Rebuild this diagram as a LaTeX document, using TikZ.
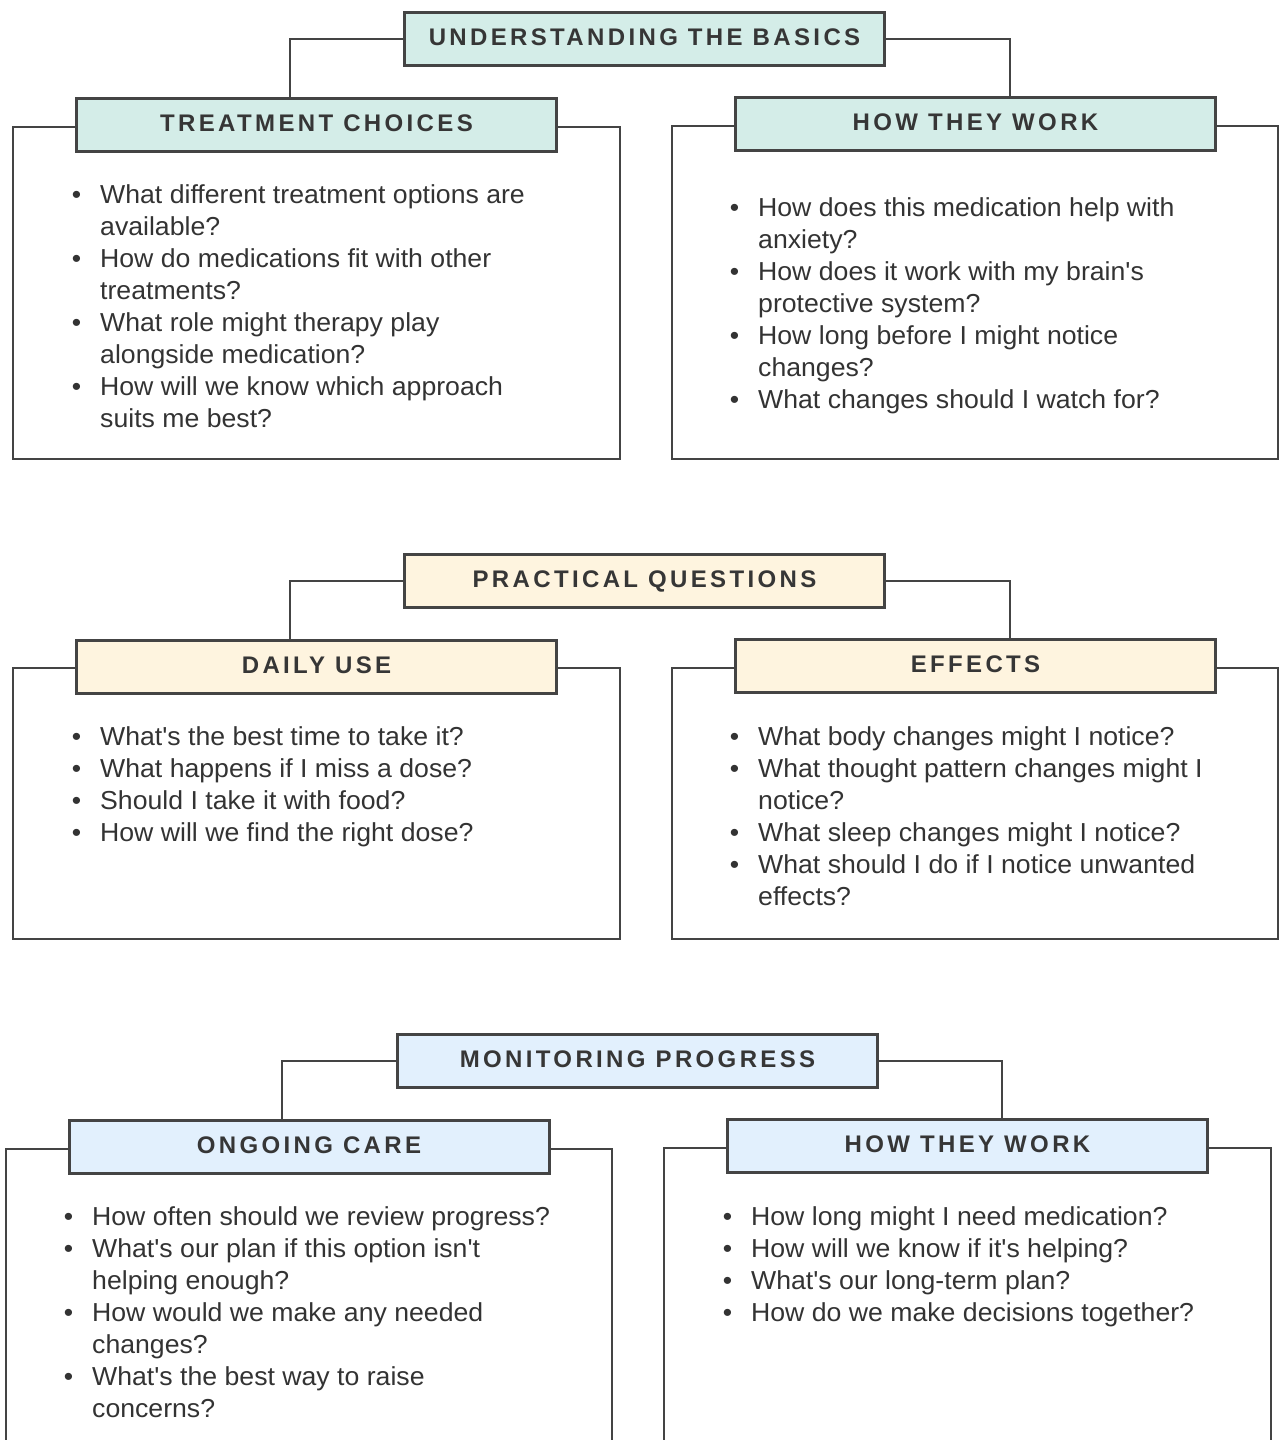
\documentclass[tikz,border=0pt]{standalone}
\usepackage{fontspec}
\newfontfamily\bodyfont{Liberation Sans}[FakeStretch=1.025]
\newfontfamily\hdrfont{Liberation Sans}[LetterSpace=14]
\definecolor{linec}{HTML}{444444}
\definecolor{tealf}{HTML}{D4EDE8}
\definecolor{yellf}{HTML}{FEF4DF}
\definecolor{bluef}{HTML}{E2F0FD}
\definecolor{txtc}{HTML}{333333}
\definecolor{hdrc}{HTML}{363636}
\newcommand\bu{\llap{\textbullet\hspace{19pt}}}
\begin{document}
\begin{tikzpicture}[x=1pt,y=-1pt,
  outerbox/.style={draw=linec, line width=2pt, fill=white, inner sep=0pt},
  hdrbox/.style={draw=linec, line width=3pt, minimum width=480pt, minimum height=53pt,
    inner sep=0pt, text=hdrc, text height=17pt, text depth=4pt,
    font=\hdrfont\bfseries\fontsize{24}{24}\selectfont},
  conn/.style={draw=linec, line width=2.2pt},
  qlist/.style={anchor=base west, align=left, inner sep=0pt, text=txtc,
    font=\bodyfont\fontsize{26}{32}\selectfont}]
\useasboundingbox (0,0) rectangle (1281,1440);
\clip (0,0) rectangle (1281,1440);
\fill[white] (0,0) rectangle (1281,1440);
% ---------- group 1
\node[outerbox, minimum width=607pt, minimum height=332pt] (o1l) at (316.5,293) {};
\node[outerbox, minimum width=606pt, minimum height=333pt] (o1r) at (975,292.5) {};
\node[hdrbox, fill=tealf] (t1) at (644.5,39) {UNDERSTANDING THE BASICS};
\node[hdrbox, fill=tealf] (h1l) at (316.5,125) {TREATMENT CHOICES};
\node[hdrbox, fill=tealf] (h1r) at (975.5,124) {HOW THEY WORK};
\draw[conn] (t1.west) -| ([xshift=-26.5pt]h1l.north);
\draw[conn] (t1.east) -| ([xshift=34.5pt]h1r.north);
% anchor = baseline of the last line
\node[qlist] (q1l) at (100,427) {\bu What different treatment options are\\available?\\
\bu How do medications fit with other\\treatments?\\
\bu What role might therapy play\\alongside medication?\\
\bu How will we know which approach\\suits me best?};
\node[qlist] (q1r) at (758,408) {\bu How does this medication help with\\anxiety?\\
\bu How does it work with my brain's\\protective system?\\
\bu How long before I might notice\\changes?\\
\bu What changes should I watch for?};
% ---------- group 2
\node[outerbox, minimum width=607pt, minimum height=271pt] (o2l) at (316.5,803.5) {};
\node[outerbox, minimum width=606pt, minimum height=271pt] (o2r) at (975,803.5) {};
\node[hdrbox, fill=yellf] (t2) at (644.5,581) {PRACTICAL QUESTIONS};
\node[hdrbox, fill=yellf] (h2l) at (316.5,667) {DAILY USE};
\node[hdrbox, fill=yellf] (h2r) at (975.5,666) {EFFECTS};
\draw[conn] (t2.west) -| ([xshift=-26.5pt]h2l.north);
\draw[conn] (t2.east) -| ([xshift=34.5pt]h2r.north);
\node[qlist] (q2l) at (100,841) {\bu What's the best time to take it?\\
\bu What happens if I miss a dose?\\
\bu Should I take it with food?\\
\bu How will we find the right dose?};
\node[qlist] (q2r) at (758,905) {\bu What body changes might I notice?\\
\bu What thought pattern changes might I\\notice?\\
\bu What sleep changes might I notice?\\
\bu What should I do if I notice unwanted\\effects?};
% ---------- group 3
\node[outerbox, minimum width=606pt, minimum height=450pt] (o3l) at (309,1374) {};
\node[outerbox, minimum width=607pt, minimum height=450pt] (o3r) at (967.5,1373) {};
\node[hdrbox, fill=bluef] (t3) at (637.5,1061) {MONITORING PROGRESS};
\node[hdrbox, fill=bluef] (h3l) at (309,1147) {ONGOING CARE};
\node[hdrbox, fill=bluef] (h3r) at (967.5,1146) {HOW THEY WORK};
\draw[conn] (t3.west) -| ([xshift=-27pt]h3l.north);
\draw[conn] (t3.east) -| ([xshift=34.5pt]h3r.north);
\node[qlist] (q3l) at (92,1417) {\bu How often should we review progress?\\
\bu What's our plan if this option isn't\\helping enough?\\
\bu How would we make any needed\\changes?\\
\bu What's the best way to raise\\concerns?};
\node[qlist] (q3r) at (751,1321) {\bu How long might I need medication?\\
\bu How will we know if it's helping?\\
\bu What's our long-term plan?\\
\bu How do we make decisions together?};
\end{tikzpicture}
\end{document}
